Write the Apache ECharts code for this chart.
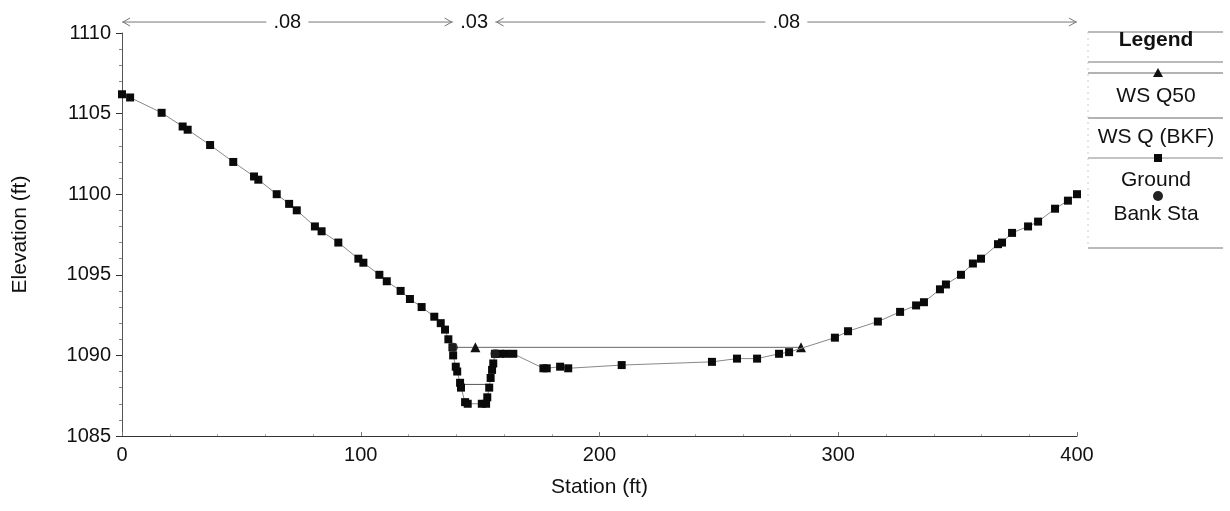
<!DOCTYPE html>
<html><head><meta charset="utf-8">
<script src="https://cdn.jsdelivr.net/npm/echarts@6/dist/echarts.min.js"></script>
<style>html,body{margin:0;padding:0;background:#fff}#c{width:1230px;height:511px}</style>
</head><body><div id="c"></div>
<script>
// ---- data ----
const groundStation = [0,3.4,16.6,25.4,27.5,36.9,46.6,55.3,57.1,64.8,70.0,73.2,80.8,83.6,90.6,99.0,101.1,107.8,110.9,116.7,120.6,125.5,130.8,133.5,135.3,136.7,138.4,138.7,139.8,140.4,141.6,142.0,143.7,144.8,150.7,152.5,153.0,153.8,154.4,155.0,155.5,156.2,158.3,160.8,163.9,176.5,177.9,183.5,186.9,209.3,247.1,257.6,266.0,275.2,279.4,298.6,304.1,316.6,325.9,332.6,335.9,342.6,345.1,351.4,356.4,359.8,366.9,368.6,372.8,379.5,383.7,390.8,396.2,400];
const groundElev = [1106.2,1106.0,1105.05,1104.2,1104.0,1103.05,1102.0,1101.1,1100.9,1100.0,1099.4,1099.0,1098.0,1097.7,1097.0,1096.0,1095.75,1095.0,1094.6,1094.0,1093.5,1093.0,1092.4,1092.0,1091.6,1091.0,1090.5,1090.0,1089.3,1089.0,1088.3,1088.0,1087.1,1087.0,1087.0,1087.0,1087.4,1088.0,1088.6,1089.1,1089.5,1090.1,1090.1,1090.1,1090.1,1089.2,1089.2,1089.3,1089.2,1089.4,1089.6,1089.8,1089.8,1090.1,1090.2,1091.1,1091.5,1092.1,1092.7,1093.1,1093.3,1094.1,1094.4,1095.0,1095.7,1096.0,1096.9,1097.0,1097.6,1098.0,1098.3,1099.1,1099.6,1100.0];
const wsQ50Station = [138.6, 148, 284.4];
const wsQ50Elev = [1090.5, 1090.5, 1090.5];
const wsQ50Marker = [false, true, true];
const wsBkfStation = [141.7, 154.1];
const wsBkfElev = [1088.2, 1088.2];
const bankStation = [138.8, 156.2];
const bankElev = [1090.5, 1090.1];
const nBounds = [0, 138.5, 156.5, 400];
const nValues = ['.08', '.03', '.08'];
const nElev = 1110.68;
const legendNames = ['WS Q50', 'WS Q (BKF)', 'Ground', 'Bank Sta'];

const FONT = 'Liberation Sans';
const FS = 20;
const FN = 21;

const zip = (a, b) => a.map((v, i) => [v, b[i]]);

const option = {
  backgroundColor: '#fff',
  animation: false,
  textStyle: { fontFamily: FONT },
  grid: { left: 122, right: 153, top: 33, bottom: 75 },
  xAxis: {
    type: 'value', min: 0, max: 400, interval: 100,
    name: 'Station (ft)', nameLocation: 'middle', nameGap: 41,
    nameTextStyle: { fontFamily: FONT, fontSize: FN, color: '#111' },
    axisLine: { lineStyle: { color: '#333', width: 1 } },
    axisTick: { show: true, inside: true, length: 4, lineStyle: { color: '#777' } },
    minorTick: { show: true, splitNumber: 5, length: 2, lineStyle: { color: '#aaa' } },
    axisLabel: { fontFamily: FONT, fontSize: FS, color: '#111', margin: 9 },
    splitLine: { show: false }
  },
  yAxis: {
    type: 'value', min: 1085, max: 1110, interval: 5,
    name: 'Elevation (ft)', nameLocation: 'middle', nameGap: 91,
    nameTextStyle: { fontFamily: FONT, fontSize: FN, color: '#111' },
    axisLine: { show: true, lineStyle: { color: '#555', width: 1 } },
    axisTick: { show: true, length: 6, lineStyle: { color: '#333' } },
    minorTick: { show: true, splitNumber: 5, length: 3, lineStyle: { color: '#888' } },
    axisLabel: { fontFamily: FONT, fontSize: FS, color: '#111', margin: 11, formatter: v => String(v) },
    splitLine: { show: false }
  },
  series: [
    {
      name: legendNames[0], type: 'line',
      data: wsQ50Station.map((s, i) => ({ value: [s, wsQ50Elev[i]], symbol: wsQ50Marker[i] ? 'triangle' : 'none' })),
      symbolSize: 10, itemStyle: { color: '#111' },
      lineStyle: { color: '#666', width: 1 }, z: 3
    },
    {
      name: legendNames[1], type: 'line', data: zip(wsBkfStation, wsBkfElev),
      showSymbol: false, symbol: 'none', lineStyle: { color: '#555', width: 1 }, z: 3
    },
    {
      name: legendNames[2], type: 'line', data: zip(groundStation, groundElev),
      symbol: 'rect', symbolSize: 8, showAllSymbol: true, clip: false,
      itemStyle: { color: '#0a0a0a' }, lineStyle: { color: '#888', width: 1 }, z: 4
    },
    {
      name: legendNames[3], type: 'scatter', data: zip(bankStation, bankElev),
      symbol: 'circle', symbolSize: 9, itemStyle: { color: '#222' }, z: 5
    }
  ]
};

const chart = echarts.init(document.getElementById('c'), null, { renderer: 'canvas' });
chart.setOption(option);

// ---- n-value annotation (positions through the chart's own scale) ----
const P = (x, y) => chart.convertToPixel({ gridIndex: 0 }, [x, y]);
const g = [];
const ay = P(0, nElev)[1];
const gray = '#777';
for (let i = 0; i < nValues.length; i++) {
  const x0 = P(nBounds[i], nElev)[0];
  const x1 = P(nBounds[i + 1], nElev)[0];
  const xm = (x0 + x1) / 2;
  const half = 15, pad = 6;
  if (xm - half - pad > x0) g.push({ type: 'line', shape: { x1: x0, y1: ay, x2: xm - half - pad, y2: ay }, style: { stroke: gray, lineWidth: 1 } });
  if (xm + half + pad < x1) g.push({ type: 'line', shape: { x1: xm + half + pad, y1: ay, x2: x1, y2: ay }, style: { stroke: gray, lineWidth: 1 } });
  if (x1 - x0 > 60) {
    g.push({ type: 'polyline', shape: { points: [[x0 + 8, ay - 4], [x0 + 1, ay], [x0 + 8, ay + 4]] }, style: { stroke: gray, lineWidth: 1, fill: null } });
    g.push({ type: 'polyline', shape: { points: [[x1 - 8, ay - 4], [x1 - 1, ay], [x1 - 8, ay + 4]] }, style: { stroke: gray, lineWidth: 1, fill: null } });
  }
  g.push({ type: 'text', x: xm, y: ay, style: { text: nValues[i], fontFamily: FONT, fontSize: FS, fill: '#111', align: 'center', verticalAlign: 'middle' } });
}

// ---- legend box ----
const L = 1088, R = 1223, C = 1158;
const hl = (y, c) => ({ type: 'line', shape: { x1: L, y1: y, x2: R, y2: y }, style: { stroke: c || '#777', lineWidth: 1 } });
const tx = (t, y, bold) => ({ type: 'text', x: C - 2, y: y, style: { text: t, fontFamily: FONT, fontSize: FN, fontWeight: bold ? 'bold' : 'normal', fill: '#111', align: 'center', verticalAlign: 'middle' } });
g.push(hl(32));
g.push(tx('Legend', 40, true));
g.push(hl(62));
g.push(hl(73, '#666'));
g.push({ type: 'polygon', shape: { points: [[C, 68], [C - 5, 77], [C + 5, 77]] }, style: { fill: '#111' } });
g.push(tx(legendNames[0], 96));
g.push(hl(118, '#666'));
g.push(tx(legendNames[1], 137));
g.push(hl(158, '#888'));
g.push({ type: 'rect', shape: { x: C - 4, y: 154, width: 8, height: 8 }, style: { fill: '#0a0a0a' } });
g.push(tx(legendNames[2], 180));
g.push({ type: 'circle', shape: { cx: C, cy: 196, r: 5 }, style: { fill: '#222' } });
g.push(tx(legendNames[3], 214));
g.push(hl(248));
g.push({ type: 'line', shape: { x1: L, y1: 32, x2: L, y2: 248 }, style: { stroke: '#ccc', lineWidth: 1, lineDash: [2, 4] } });

chart.setOption({ graphic: g });
</script>
</body></html>
